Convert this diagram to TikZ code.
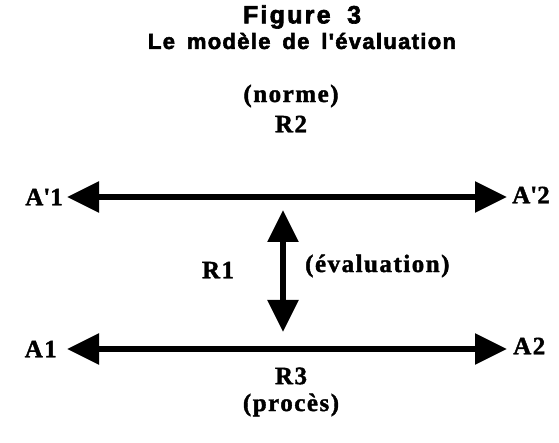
\documentclass[tikz,border=0pt]{standalone}
\usepackage{fontspec}
\setmainfont{Liberation Serif}
\newfontfamily\titlefont[FakeBold=2.5,LetterSpace=6,WordSpace=1.6]{Liberation Sans Bold}
\newfontfamily\titlefontA[FakeBold=2.5,LetterSpace=9,WordSpace=1.8]{Liberation Sans Bold}
\newfontfamily\lblfont[LetterSpace=6,FakeBold=1.5]{Liberation Serif Bold}
\usetikzlibrary{arrows.meta}
\begin{document}
\begin{tikzpicture}[x=1pt,y=-1pt,
  ttla/.style={font=\titlefontA\fontsize{25}{27}\selectfont, inner sep=0pt},
  ttlb/.style={font=\titlefont\fontsize{22}{24}\selectfont, inner sep=0pt},
  lbl/.style={font=\lblfont\fontsize{25}{27}\selectfont, inner sep=0pt},
  dbl/.style={line width=5.5pt, {Triangle[length=32pt,width=30pt]}-{Triangle[length=32pt,width=30pt]}}]
\useasboundingbox (0,0) rectangle (559,443);
\node[ttla] (t1) at (302,17) {Figure 3};
\node[ttlb] (t2) at (302,41) {Le modèle de l'évaluation};
\node[lbl] (norme) at (291,96) {(norme)};
\node[lbl] (r2) at (291,124) {R2};
\node[lbl, anchor=east] (ap1) at (63,197) {A\textquotesingle 1};
\node[lbl, anchor=west] (ap2) at (512,195) {A\textquotesingle 2};
\node[lbl, anchor=east] (a1) at (57,349) {A1};
\node[lbl, anchor=west] (a2) at (513,346) {A2};
\coordinate (tl) at (67,197);
\coordinate (tr) at (507,197);
\coordinate (bl) at (67,349);
\coordinate (br) at (507,349);
\coordinate (vt) at (283,210);
\coordinate (vb) at (283,332);
\draw[dbl] (tl) -- (tr);
\draw[dbl] (bl) -- (br);
\draw[dbl] (vt) -- (vb);
\node[lbl] (r1) at (218,270) {R1};
\node[lbl, anchor=west] (ev) at (305,266) {(évaluation)};
\node[lbl] (r3) at (291,376) {R3};
\node[lbl] (proces) at (291,405) {(procès)};
\end{tikzpicture}
\end{document}
